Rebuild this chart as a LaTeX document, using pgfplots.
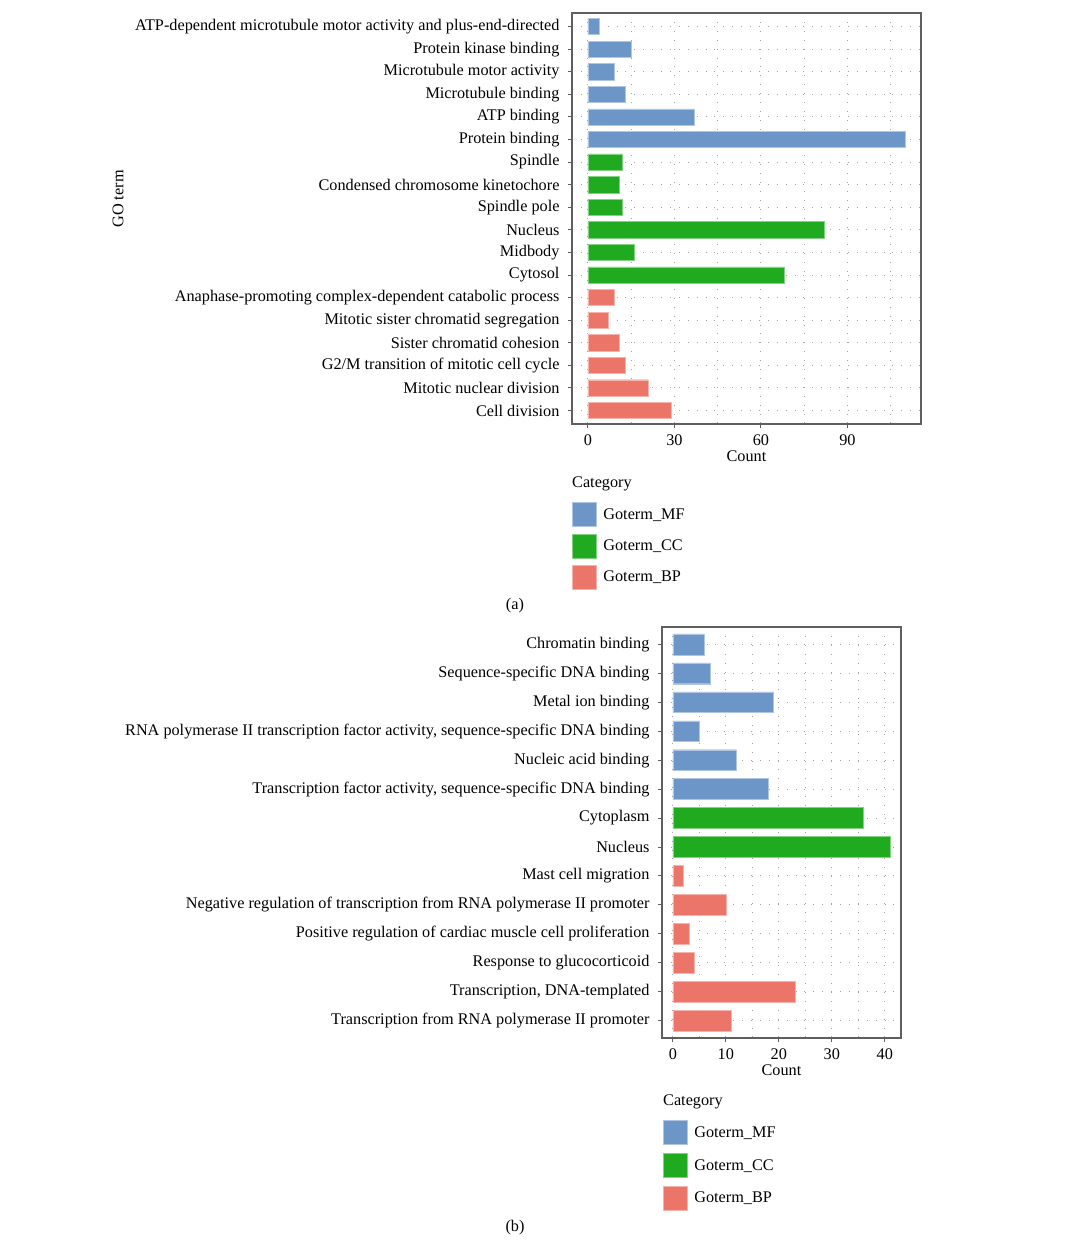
\documentclass[border=0pt]{standalone}
\usepackage{fontspec}
\setmainfont{Liberation Serif}
\usepackage{pgfplots}
\pgfplotsset{compat=1.18}

\definecolor{mf}{RGB}{109,150,200}
\definecolor{cc}{RGB}{31,170,31}
\definecolor{bp}{RGB}{236,117,105}
\definecolor{framec}{RGB}{95,95,95}
\newcommand{\lbl}{\fontsize{16.3}{19}\selectfont}

\pgfplotsset{
  gostyle/.style={
    scale only axis,
    xbar,
    y dir=reverse,
    enlargelimits=false,
    axis line style={framec, line width=1.3bp},
    tick style={framec, line width=0.9bp},
    tick align=outside,
    major tick length=4bp,
    minor tick length=0pt,
    xtick pos=left, ytick pos=left,
    xmajorgrids, xminorgrids, ymajorgrids,
    major grid style={gray!70, line width=0.9bp, dash pattern=on 0.9bp off 8bp},
    minor grid style={gray!70, line width=0.9bp, dash pattern=on 0.9bp off 8bp},
    tick label style={font=\lbl},
    yticklabel style={xshift=-5bp},
    xticklabel style={yshift=-3bp},
    label style={font=\lbl},
    xlabel style={yshift=2bp},
    /pgf/number format/assume math mode=true,
    xlabel={Count},
    legend cell align=left,
    legend image code/.code={\draw[##1, line width=0.7bp] (0bp,-12bp) rectangle (24bp,12bp);},
    every axis plot/.append style={bar shift=0pt, bar width=0.72},
  },
  mfbar/.style={fill=mf, draw=mf!55!white},
  ccbar/.style={fill=cc, draw=cc!55!white},
  bpbar/.style={fill=bp, draw=bp!55!white},
}

\begin{document}
\begin{tikzpicture}
\path[use as bounding box] (0bp,0bp) rectangle (1080bp,-1252bp);

% ---------- panel (a) ----------
\begin{axis}[gostyle,
  at={(572bp,-13bp)}, anchor=north west,
  width=349bp, height=411bp,
  xmin=-5.5, xmax=115.5, ymin=0.4, ymax=18.6,
  xtick={0,30,60,90}, minor xtick={15,45,75,105},
  ytick={1,...,18},
  yticklabels={
    ATP-dependent microtubule motor activity and plus-end-directed,
    Protein kinase binding,
    Microtubule motor activity,
    Microtubule binding,
    ATP binding,
    Protein binding,
    Spindle,
    Condensed chromosome kinetochore,
    Spindle pole,
    Nucleus,
    Midbody,
    Cytosol,
    Anaphase-promoting complex-dependent catabolic process,
    Mitotic sister chromatid segregation,
    Sister chromatid cohesion,
    G2/M transition of mitotic cell cycle,
    Mitotic nuclear division,
    Cell division},
  legend style={draw=none, fill=none, at={(axis description cs:0,-0.19)}, anchor=north west,
    inner sep=0pt, row sep=6.5bp, column sep=6.5bp, font=\lbl, nodes={inner sep=0pt}},
]
\addplot[mfbar] coordinates {(4,1) (15,2) (9,3) (13,4) (37,5) (110,6)};
\addplot[ccbar] coordinates {(12,7) (11,8) (12,9) (82,10) (16,11) (68,12)};
\addplot[bpbar] coordinates {(9,13) (7,14) (11,15) (13,16) (21,17) (29,18)};
\legend{Goterm\_MF, Goterm\_CC, Goterm\_BP}
\end{axis}

% ---------- panel (b) ----------
\begin{axis}[gostyle,
  at={(662bp,-627bp)}, anchor=north west,
  width=239bp, height=411bp,
  xmin=-2.05, xmax=43.05, ymin=0.4, ymax=14.6,
  xtick={0,10,20,30,40}, minor xtick={5,15,25,35},
  ytick={1,...,14},
  yticklabels={
    Chromatin binding,
    Sequence-specific DNA binding,
    Metal ion binding,
    {RNA polymerase II transcription factor activity, sequence-specific DNA binding},
    Nucleic acid binding,
    {Transcription factor activity, sequence-specific DNA binding},
    Cytoplasm,
    Nucleus,
    Mast cell migration,
    Negative regulation of transcription from RNA polymerase II promoter,
    Positive regulation of cardiac muscle cell proliferation,
    Response to glucocorticoid,
    {Transcription, DNA-templated},
    Transcription from RNA polymerase II promoter},
  legend style={draw=none, fill=none, at={(axis description cs:0.004,-0.2)}, anchor=north west,
    inner sep=0pt, row sep=8bp, column sep=6.5bp, font=\lbl, nodes={inner sep=0pt}},
]
\addplot[mfbar] coordinates {(6,1) (7,2) (19,3) (5,4) (12,5) (18,6)};
\addplot[ccbar] coordinates {(36,7) (41,8)};
\addplot[bpbar] coordinates {(2,9) (10,10) (3,11) (4,12) (23,13) (11,14)};
\legend{Goterm\_MF, Goterm\_CC, Goterm\_BP}
\end{axis}

\node[rotate=90, font=\lbl] at (118bp,-199bp) {GO term};
\node[anchor=west, font=\lbl, inner sep=0pt] at (572bp,-484bp) {Category};
\node[anchor=west, font=\lbl, inner sep=0pt] at (663bp,-1102bp) {Category};
\node[font=\lbl] at (515bp,-606bp) {(a)};
\node[font=\lbl] at (515bp,-1228bp) {(b)};
\end{tikzpicture}
\end{document}
